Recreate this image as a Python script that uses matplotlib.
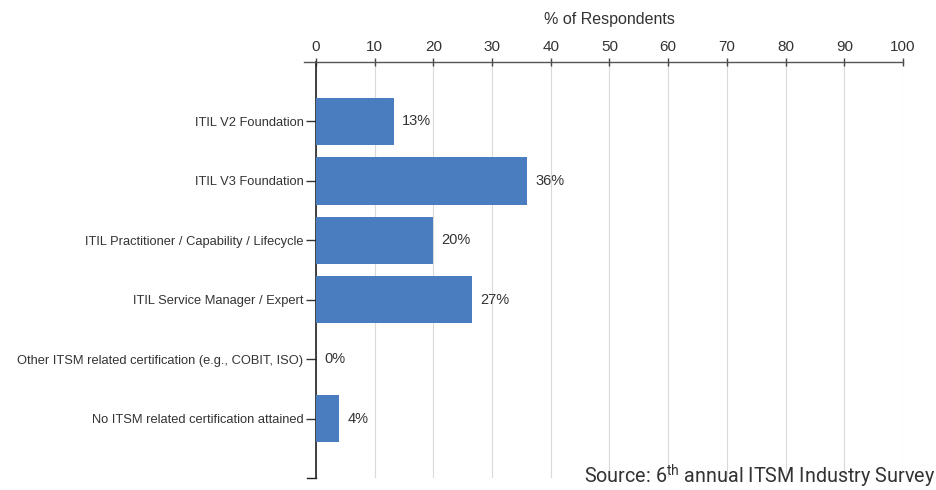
import matplotlib.pyplot as plt

plt.rcParams['font.family'] = ['Liberation Sans', 'DejaVu Sans']
plt.rcParams['mathtext.fontset'] = 'custom'
plt.rcParams['mathtext.rm'] = 'Roboto'

# datos
categorias = [
    'ITIL V2 Foundation',
    'ITIL V3 Foundation',
    'ITIL Practitioner / Capability / Lifecycle',
    'ITIL Service Manager / Expert',
    'Other ITSM related certification (e.g., COBIT, ISO)',
    'No ITSM related certification attained',
]
valores = [13.3, 35.9, 19.9, 26.6, 0, 3.9]
etiquetas = ['13%', '36%', '20%', '27%', '0%', '4%']
ticks_x = [0, 10, 20, 30, 40, 50, 60, 70, 80, 90, 100]

fig = plt.figure(figsize=(9.37, 4.9), dpi=100)
ax = fig.add_axes([0.3372, 0.0245, 0.6265, 0.849])

pos = list(range(len(categorias)))
ax.barh(pos, valores, height=0.8, color='#4A7DC0', zorder=3)

for p, v, t in zip(pos, valores, etiquetas):
    ax.annotate(t, (v, p), xytext=(6, 0), textcoords='offset points',
                va='center', ha='left', fontsize=10.5, color='#333333')

ax.set_xlim(0, 100)
ax.set_ylim(6, -1)
ax.set_xticks(ticks_x)
ax.set_yticks(pos)
ax.set_yticklabels(categorias, fontsize=9.3, color='#333333')

ax.xaxis.tick_top()
ax.xaxis.set_label_position('top')
ax.set_xlabel('% of Respondents', fontsize=11.5, color='#333333', labelpad=11)
ax.tick_params(axis='x', direction='inout', length=6, width=1, colors='#444444',
               labelsize=11, labelcolor='#333333', pad=3)
ax.tick_params(axis='y', direction='out', length=7, width=1, colors='#333333', pad=2)

ax.grid(axis='x', color='#d9d9d9', linewidth=0.8, zorder=0)

ax.spines['right'].set_visible(False)
ax.spines['bottom'].set_visible(False)
ax.spines['top'].set_color('#555555')
ax.spines['top'].set_bounds(-2, 100)
ax.spines['left'].set_color('#222222')
ax.spines['left'].set_linewidth(1.2)
ax.spines['top'].set_linewidth(1)

# tic inferior del eje vertical
ax.plot([-1.5, 0], [6, 6], color='#222222', lw=1, clip_on=False)

fig.text(0.998, 0.014, r'Source: 6$^{\rm th}$ annual ITSM Industry Survey',
         ha='right', va='baseline', fontsize=14.2, family='Roboto', color='#333333')

plt.savefig('out.png', dpi=100)
